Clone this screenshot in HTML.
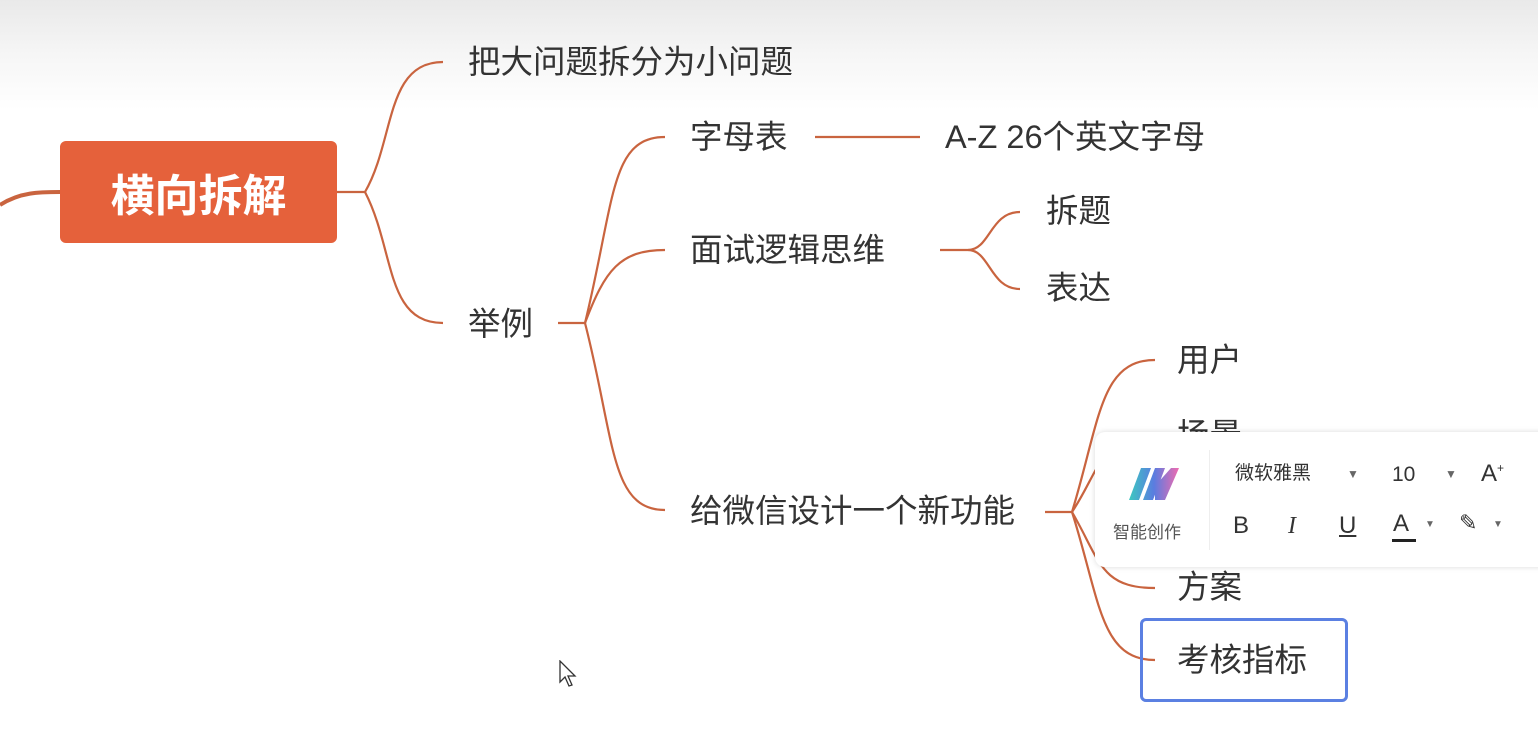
<!DOCTYPE html>
<html><head><meta charset="utf-8"><style>
html,body{margin:0;padding:0;}
body{width:1538px;height:750px;overflow:hidden;background:#fff;position:relative;font-family:"Liberation Sans","Noto Sans CJK SC",sans-serif;}
.bg{position:absolute;left:0;top:0;width:1538px;height:110px;background:linear-gradient(#e9e9e9,#f6f6f6 50%,#fff);}
.t{position:absolute;font-size:32.5px;color:#333;line-height:1;white-space:nowrap;}
.root{position:absolute;left:60px;top:141px;width:277px;height:102px;background:#e5613b;border-radius:6px;color:#fff;font-weight:bold;font-size:44px;display:flex;align-items:center;justify-content:center;}
.tb{position:absolute;left:1095px;top:432px;width:460px;height:135px;background:#fff;border-radius:10px;box-shadow:0 0 6px rgba(0,0,0,0.15);}
.tb .s{position:absolute;color:#333;white-space:nowrap;line-height:1;}
.blue{position:absolute;left:1140px;top:618px;width:202px;height:78px;border:3px solid #5b80e2;border-radius:6px;}
</style></head><body>
<div class="bg"></div>
<svg width="1538" height="750" style="position:absolute;left:0;top:0" fill="none" stroke="#c9643f" stroke-width="2.2">
<path d="M0 205 C20 192 40 192 60 192" stroke-width="4"/>
<path d="M337 192 H365 C395 140 385 62 443 62"/>
<path d="M365 192 C395 250 385 323 443 323"/>
<path d="M558 323 H585 C615 200 610 137 665 137"/>
<path d="M585 323 C605 270 620 250 665 250"/>
<path d="M585 323 C615 440 610 510 665 510"/>
<path d="M815 137 H920"/>
<path d="M940 250 H968 C990 250 990 212 1020 212"/>
<path d="M968 250 C990 250 990 289 1020 289"/>
<path d="M1045 512 H1072 C1100 420 1100 360 1155 360"/>
<path d="M1072 512 C1100 470 1100 435 1155 435"/>
<path d="M1072 512 C1100 560 1100 588 1155 588"/>
<path d="M1072 512 C1100 600 1100 660 1155 660"/>
</svg>
<div class="root">横向拆解</div>
<div class="t" style="left:468px;top:46px">把大问题拆分为小问题</div>
<div class="t" style="left:468px;top:308px">举例</div>
<div class="t" style="left:690px;top:121px">字母表</div>
<div class="t" style="left:945px;top:121px">A-Z 26个英文字母</div>
<div class="t" style="left:690px;top:234px">面试逻辑思维</div>
<div class="t" style="left:1046px;top:195px">拆题</div>
<div class="t" style="left:1046px;top:272px">表达</div>
<div class="t" style="left:690px;top:495px">给微信设计一个新功能</div>
<div class="t" style="left:1177px;top:344px">用户</div>
<div class="t" style="left:1177px;top:419px">场景</div>
<div class="t" style="left:1177px;top:571px">方案</div>
<div class="t" style="left:1177px;top:644px">考核指标</div>
<div class="blue"></div>
<div class="tb">
 <svg width="60" height="50" style="position:absolute;left:30px;top:30px">
  <defs><linearGradient id="g" x1="0" x2="1"><stop offset="0" stop-color="#3cc8c0"/><stop offset="0.5" stop-color="#5a7ce0"/><stop offset="1" stop-color="#f06bb0"/></linearGradient></defs>
  <path d="M4 38 L16 6 H26 L14 38Z M18 38 L30 6 H40 L28 38Z M30 24 L46 6 H54 L40 38 H30Z" fill="url(#g)"/>
 </svg>
 <div class="s" style="left:18px;top:92px;font-size:17px;color:#555">智能创作</div>
 <div style="position:absolute;left:114px;top:18px;width:1px;height:100px;background:#eee"></div>
 <div class="s" style="left:140px;top:32px;font-size:19px">微软雅黑</div>
 <div class="s" style="left:252px;top:36px;font-size:12px;color:#666">▼</div>
 <div class="s" style="left:297px;top:32px;font-size:21px">10</div>
 <div class="s" style="left:350px;top:36px;font-size:12px;color:#666">▼</div>
 <div class="s" style="left:386px;top:30px;font-size:24px">A<sup style="font-size:12px">+</sup></div>
 <div class="s" style="left:138px;top:82px;font-size:24px">B</div>
 <div class="s" style="left:193px;top:82px;font-size:24px;font-style:italic;font-family:'Liberation Serif',serif">I</div>
 <div class="s" style="left:244px;top:82px;font-size:24px;text-decoration:underline">U</div>
 <div class="s" style="left:298px;top:80px;font-size:24px">A</div>
 <div style="position:absolute;left:297px;top:107px;width:24px;height:3px;background:#222"></div>
 <div class="s" style="left:330px;top:88px;font-size:10px;color:#666">▼</div>
 <div class="s" style="left:364px;top:80px;font-size:22px">✎</div>
 <div class="s" style="left:398px;top:88px;font-size:10px;color:#666">▼</div>
</div>
<svg width="20" height="30" style="position:absolute;left:559px;top:660px"><path d="M1 1 V22 L6 17 L10 26 L13 25 L9 16 H16Z" fill="#fff" stroke="#333" stroke-width="1.3"/></svg>
</body></html>
